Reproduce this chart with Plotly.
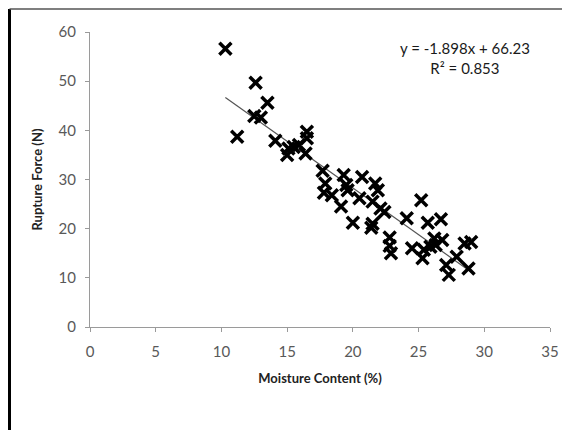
import plotly.graph_objects as go

moisture = [10.3, 11.2, 12.6, 12.5, 13.0, 13.5, 14.1, 15.0, 15.1, 15.5, 15.9, 16.4, 16.5, 16.5,
            17.7, 17.9, 17.8, 18.4, 19.3, 19.5, 19.6, 19.1, 20.0, 20.5, 20.7, 21.4, 21.5,
            21.5, 21.7, 21.9, 22.1, 22.4, 22.8, 22.9, 22.8, 24.1, 24.5, 25.2, 25.3, 25.4,
            25.7, 25.9, 26.2, 26.3, 26.7, 26.8, 27.1, 27.3, 27.9, 28.5, 29.0, 28.8]
force = [56.6, 38.7, 49.7, 42.9, 42.6, 45.6, 37.9, 35.0, 36.3, 36.6, 37.0, 35.3, 38.4, 39.7,
         31.8, 29.2, 27.3, 26.8, 30.9, 28.9, 27.8, 24.5, 21.2, 26.2, 30.5, 20.2, 21.0,
         25.5, 29.2, 27.8, 24.1, 23.4, 18.2, 15.0, 16.5, 22.1, 16.0, 25.8, 14.0, 15.7,
         21.2, 16.3, 18.0, 16.7, 21.9, 17.7, 12.6, 10.6, 14.3, 17.0, 17.3, 11.9]

slope = -1.898
intercept = 66.23
r2 = 0.853
x_ticks = [0, 5, 10, 15, 20, 25, 30, 35]
y_ticks = [0, 10, 20, 30, 40, 50, 60]

trend_x = [min(moisture), max(moisture)]
trend_y = [slope * v + intercept for v in trend_x]

font_family = "Lato, Liberation Sans Narrow, Arial"

fig = go.Figure()
fig.add_trace(go.Scatter(x=trend_x, y=trend_y, mode="lines",
                         line=dict(color="#555555", width=1.2), showlegend=False))
fig.add_trace(go.Scatter(x=moisture, y=force, mode="markers",
                         marker=dict(symbol="x-thin-open", size=12, color="black",
                                     line=dict(color="black", width=3.5)),
                         showlegend=False))

axis_common = dict(showgrid=False, zeroline=False, showline=True, linecolor="#9a9a9a",
                   linewidth=1.2, ticks="outside", ticklen=4, tickcolor="#9a9a9a",
                   automargin=False,
                   tickfont=dict(family=font_family, size=15, color="#595959"))

fig.update_layout(
    width=562, height=422,
    margin=dict(l=82, r=20, t=24, b=103),
    paper_bgcolor="white", plot_bgcolor="white",
    xaxis=dict(range=[0, 35], tickvals=x_ticks, ticklabelstandoff=7, **axis_common,
               title=dict(text="<b>Moisture Content (%)</b>",
                          font=dict(family=font_family, size=13, color="#222222"),
                          standoff=14)),
    yaxis=dict(range=[0, 60], tickvals=y_ticks, ticklabelstandoff=6, **axis_common,
               title=dict(text="<b>Rupture Force (N)</b>",
                          font=dict(family=font_family, size=13, color="#222222"),
                          standoff=12)),
    font=dict(family=font_family),
)

fig.add_annotation(xref="paper", yref="paper", x=0.815, y=0.912,
                   xanchor="center", yanchor="middle",
                   text=f"y = {slope}x + {intercept}<br>R² = {r2}",
                   showarrow=False, align="center",
                   font=dict(family=font_family, size=15, color="#1a1a1a"))

# outer frame: thick left edge and top edge
fig.add_shape(type="line", xref="paper", yref="paper", x0=-0.175, x1=-0.175, y0=-0.36, y1=1.078,
              line=dict(color="black", width=3))
fig.add_shape(type="line", xref="paper", yref="paper", x0=-0.175, x1=1.05, y0=1.078, y1=1.078,
              line=dict(color="#555555", width=1.5))

fig.write_html("out.html")
